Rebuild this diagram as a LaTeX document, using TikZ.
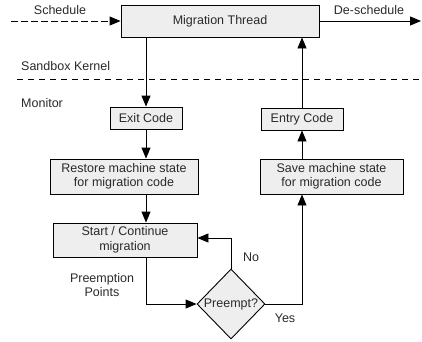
\documentclass[tikz,border=0pt]{standalone}
\usepackage{fontspec}
\setmainfont{Liberation Sans}
\usetikzlibrary{arrows.meta,shapes.geometric}
\definecolor{boxfill}{HTML}{EEEEEE}
\definecolor{txt}{HTML}{2A2A2A}
\begin{document}
\begin{tikzpicture}[x=1pt,y=-1pt,
  font=\fontsize{12.5}{14.5}\selectfont,
  proc/.style={draw=black,fill=boxfill,line width=0.9pt,text=txt,align=center,inner sep=0pt},
  lbl/.style={text=txt,align=center,inner sep=0pt},
  arr/.style={line width=0.9pt,-{Triangle[length=11pt,width=9pt]}},
  ln/.style={line width=0.9pt}]
\useasboundingbox (0,0) rectangle (422,341);
% boxes
\node[proc,minimum width=198pt,minimum height=32pt] (mt) at (220,21) {Migration Thread};
\node[proc,minimum width=72pt,minimum height=22pt] (exit) at (146,118) {Exit Code};
\node[proc,minimum width=82pt,minimum height=22pt] (entry) at (302,119) {Entry Code};
\node[proc,minimum width=148pt,minimum height=35pt] (restore) at (124,176.5) {Restore machine state\\for migration code};
\node[proc,minimum width=143pt,minimum height=35pt] (save) at (331.5,176.5) {Save machine state\\for migration code};
\node[proc,minimum width=144pt,minimum height=34pt] (start) at (125,240) {Start / Continue\\migration};
\node[proc,diamond,minimum width=68pt,minimum height=70pt] (dec) at (231,304) {};
\node[lbl] at (231,304) {Preempt?};
% coordinates
\coordinate (sin) at (11,21);
\coordinate (sout) at (421,21);
\draw[arr,dashed,dash pattern=on 7pt off 3pt] (sin) -- (mt.west);
\draw[arr] (mt.east) -- (sout);
\node[lbl] at (60,10) {Schedule};
\node[lbl] at (369,10) {De-schedule};
% separator
\coordinate (dl) at (17,79);
\coordinate (dr) at (422,79);
\draw[ln,dashed,dash pattern=on 6pt off 5pt] (dl) -- (dr);
\node[lbl,anchor=west] at (21,66) {Sandbox Kernel};
\node[lbl,anchor=west] at (21,103) {Monitor};
% flow
\draw[arr] (mt.south -| exit.north) -- (exit.north);
\draw[arr] (exit.south) -- (exit.south |- restore.north);
\draw[arr] (exit |- restore.south) -- (exit |- start.north);
\draw[arr] (entry.north) -- (entry.north |- mt.south);
\draw[arr] (entry |- save.north) -- (entry.south);
% no
\coordinate (nob) at (231,238);
\draw[arr] (dec.north) -- (nob) -- (nob -| start.east);
\node[lbl] at (251,257) {No};
% preemption
\draw[arr] (exit |- start.south) -- (exit |- dec.west) -- (dec.west);
\node[lbl] at (102,285) {Preemption\\Points};
% yes
\draw[arr] (dec.east) -- (entry |- dec.east) -- (entry |- save.south);
\node[lbl] at (285,318) {Yes};
\end{tikzpicture}
\end{document}
